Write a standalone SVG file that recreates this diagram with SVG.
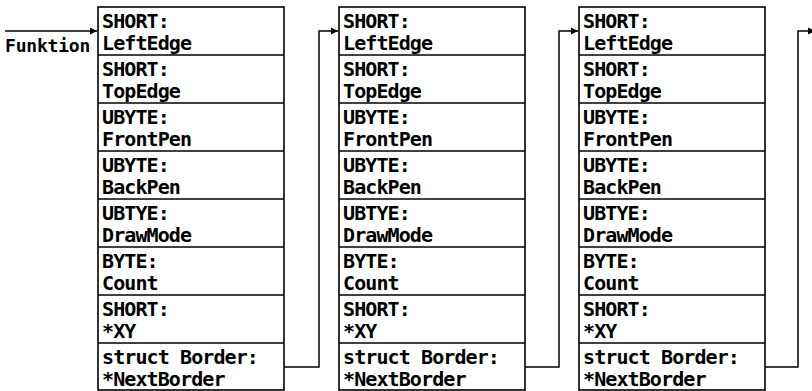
<svg xmlns="http://www.w3.org/2000/svg" width="812" height="391" viewBox="0 0 812 391">
<style>
.bx{fill:none;stroke:#000;stroke-width:1.6}
.dv{stroke:#000;stroke-width:1.6}
.t{font-family:"DejaVu Sans Mono","Liberation Mono",monospace;font-weight:bold;font-size:20px;letter-spacing:-0.9px;fill:#000}
.cn{fill:none;stroke:#000;stroke-width:1.5}
</style>
<defs>
<marker id="ah" markerWidth="8" markerHeight="8" refX="7" refY="4" orient="auto" markerUnits="userSpaceOnUse">
<path d="M0,0.5 L7,4 L0,7.5 Z" fill="#000"/>
</marker>
<g id="rec">
<rect class="bx" x="0" y="0" width="186" height="383"/>
<line class="dv" x1="0" y1="48" x2="186" y2="48"/>
<line class="dv" x1="0" y1="96" x2="186" y2="96"/>
<line class="dv" x1="0" y1="144" x2="186" y2="144"/>
<line class="dv" x1="0" y1="192" x2="186" y2="192"/>
<line class="dv" x1="0" y1="240" x2="186" y2="240"/>
<line class="dv" x1="0" y1="288" x2="186" y2="288"/>
<line class="dv" x1="0" y1="336" x2="186" y2="336"/>
<text class="t" x="4" y="21">SHORT:</text>
<text class="t" x="4" y="43">LeftEdge</text>
<text class="t" x="4" y="69">SHORT:</text>
<text class="t" x="4" y="91">TopEdge</text>
<text class="t" x="4" y="117">UBYTE:</text>
<text class="t" x="4" y="139">FrontPen</text>
<text class="t" x="4" y="165">UBYTE:</text>
<text class="t" x="4" y="187">BackPen</text>
<text class="t" x="4" y="213">UBTYE:</text>
<text class="t" x="4" y="235">DrawMode</text>
<text class="t" x="4" y="261">BYTE:</text>
<text class="t" x="4" y="283">Count</text>
<text class="t" x="4" y="309">SHORT:</text>
<text class="t" x="4" y="331">*XY</text>
<text class="t" x="4" y="357">struct Border:</text>
<text class="t" x="4" y="379">*NextBorder</text>
</g>
</defs>
<rect width="812" height="391" fill="#fff"/>
<g id="label">
<text class="t" x="5" y="52" style="font-size:18px;letter-spacing:-0.2px">Funktion</text>
</g>
<g id="border1"><use href="#rec" x="98" y="7"/></g>
<g id="border2"><use href="#rec" x="339" y="7"/></g>
<g id="border3"><use href="#rec" x="579" y="7"/></g>
<g id="connectors">
<path class="cn" d="M5,31 H97" marker-end="url(#ah)"/>
<path class="cn" d="M284,367 H319 V31 H338" marker-end="url(#ah)"/>
<path class="cn" d="M525,367 H559 V31 H578" marker-end="url(#ah)"/>
<path class="cn" d="M765,367 H798 V31 H815" marker-end="url(#ah)"/>
</g>
</svg>
